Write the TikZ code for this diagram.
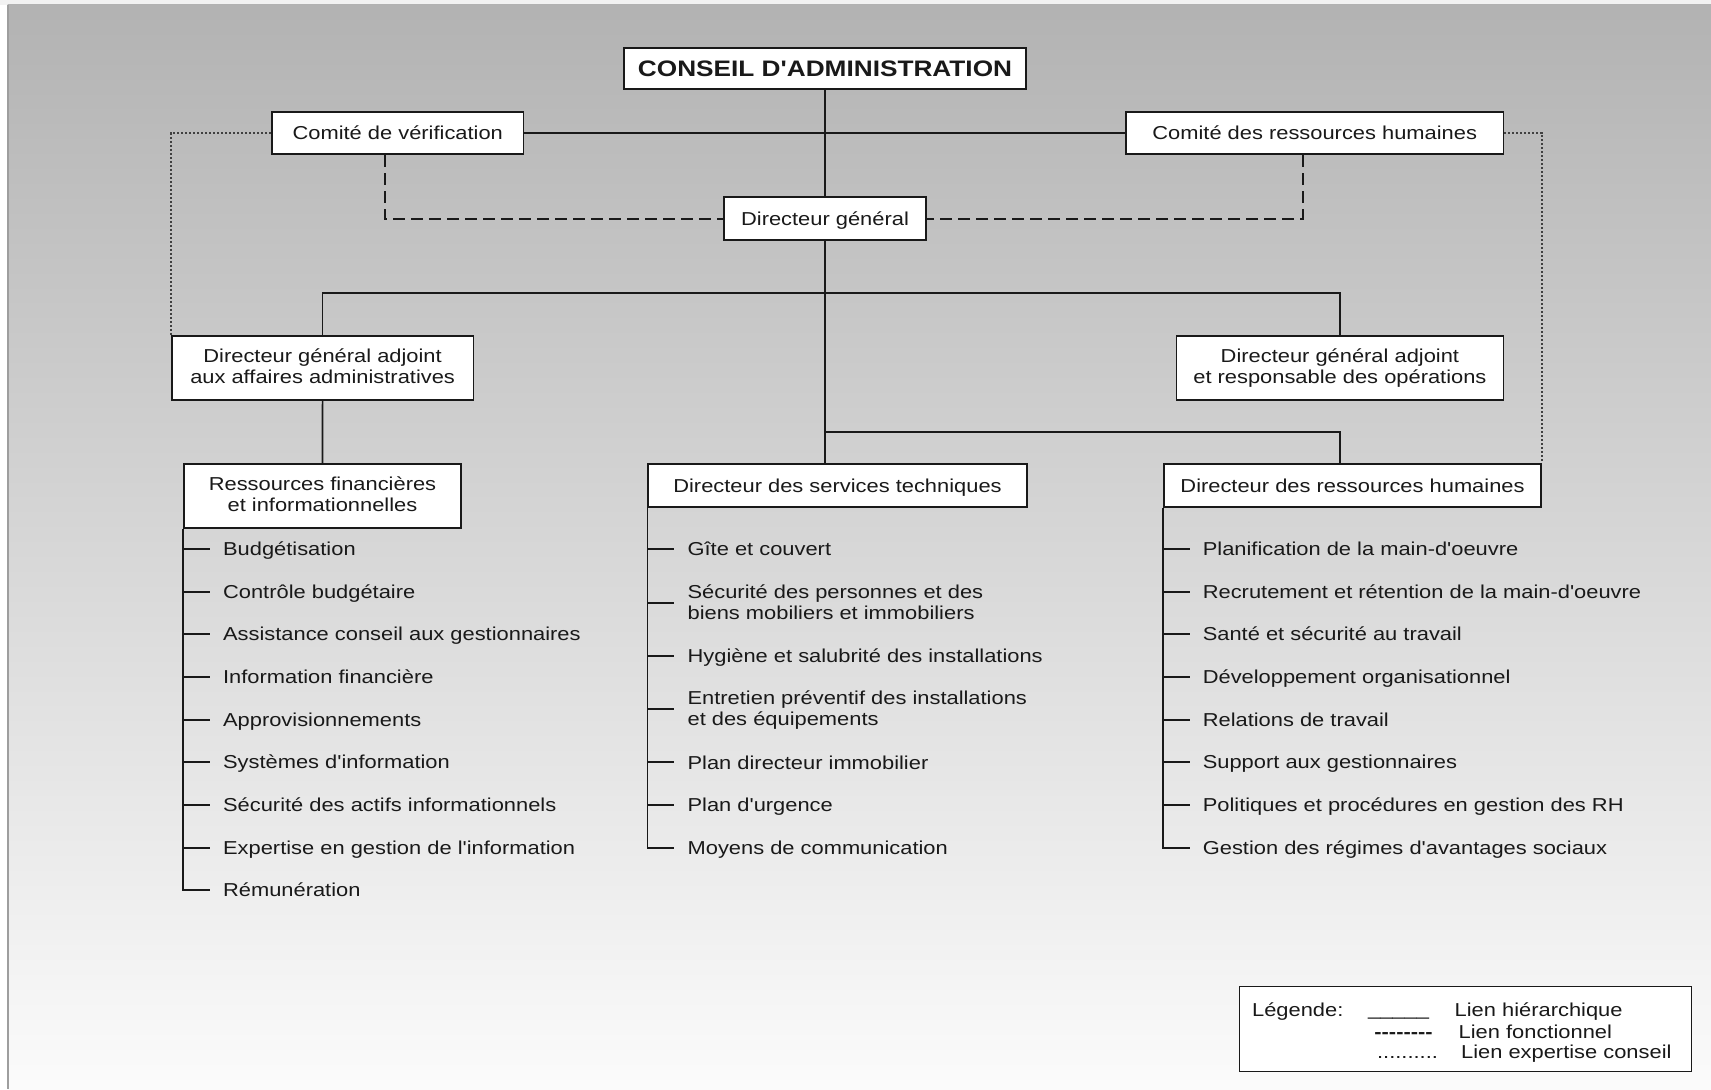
\documentclass[tikz,border=0pt]{standalone}
\usepackage{fontspec}
\newfontfamily\lsans{Liberation Sans}[FakeStretch=1.17]
\usetikzlibrary{calc}
\definecolor{bgtop}{gray}{0.70}
\definecolor{bgbot}{gray}{0.985}
\definecolor{ink}{gray}{0.1}
\definecolor{dotc}{gray}{0.25}
\definecolor{edge}{gray}{0.62}
\newcommand\twol[2]{\vtop{\hbox{#1}\hbox{#2}}}

\begin{document}
\begin{tikzpicture}[x=0.5pt,y=-0.5pt,
  every node/.style={font=\lsans\fontsize{9.35pt}{10.5pt}\selectfont, text=ink},
  box/.style={draw=ink, fill=white, line width=0.9pt, inner sep=0pt, align=center,
    execute at begin node=\rule{0pt}{8.7pt},
    execute at end node=\rule[-2pt]{0pt}{2pt}},
  hier/.style={draw=ink, line width=0.85pt},
  fonc/.style={draw=ink, line width=1pt, dash pattern=on 6pt off 3pt},
  expert/.style={draw=dotc, line width=0.6pt, dash pattern=on 1pt off 1pt},
  item/.style={anchor=base west, inner sep=0pt},
]
\useasboundingbox (0,0) rectangle (1711,1089);

% page background with vertical gradient
\fill[white] (0,0) rectangle (1711,1089);
\fill[gray!10] (0,0) rectangle (1711,4.5);
\shade[top color=bgtop, bottom color=bgbot] (7.5,4.5) rectangle (1711,1089);
\draw[edge, line width=0.75pt] (8,4.5) -- (8,1089);

% ---- boxes ----
\node[box, font=\lsans\bfseries\fontsize{11.2pt}{13pt}\selectfont,
      execute at begin node=\rule{0pt}{10pt},
      minimum width=201pt, minimum height=20.5pt] (ca) at (825,68.5) {CONSEIL D'ADMINISTRATION};
\node[box, minimum width=125.75pt, minimum height=21.15pt] (cv) at (397.75,133) {Comité de vérification};
\node[box, minimum width=188.7pt, minimum height=21.15pt] (crh) at (1314.7,133) {Comité des ressources humaines};
\node[box, minimum width=101pt, minimum height=21.35pt] (dg) at (825,218.65) {Directeur général};
\node[box, minimum width=150.8pt, minimum height=32pt] (dgaa) at (322.6,368) {Directeur général adjoint\\aux affaires administratives};
\node[box, minimum width=163.5pt, minimum height=32pt] (dgao) at (1339.9,368) {Directeur général adjoint\\et responsable des opérations};
\node[box, minimum width=138.5pt, minimum height=32.15pt] (rfi) at (322.5,496.2) {Ressources financières\\et informationnelles};
\node[box, minimum width=189.2pt, minimum height=21.35pt] (dst) at (837.5,485.35) {Directeur des services techniques};
\node[box, minimum width=188.5pt, minimum height=21.35pt] (drh) at (1352.5,485.35) {Directeur des ressources humaines};

% ---- hierarchical links ----
\coordinate (j1) at (825,293);
\coordinate (j2) at (825,432);
\coordinate (k2) at (1340,432);
\draw[hier] (ca.south) -- (dg.north);
\draw[hier] (cv.east) -- (crh.west);
\draw[hier] (dg.south) -- (dg.south |- dst.north);
\draw[hier] (dgaa.north) |- (j1) -| (dgao.north);
\draw[hier] (j2) -- (k2) -- (k2 |- drh.north);
\draw[hier] (dgaa.south) -- (rfi.north);

% ---- functional links ----
\coordinate (fl) at (385,218.65);
\coordinate (fr) at (1302.5,218.65);
\draw[fonc] (cv.south -| fl) |- (dg.west);
\draw[fonc] (crh.south -| fr) |- (dg.east);

% ---- advisory links ----
\draw[expert] (cv.west) -| (dgaa.north west);
\draw[expert] (crh.east) -| (drh.north east);

% ---- left list ----
\draw[hier] (rfi.south west) -- ++(0,362);
\foreach \ty/\t [count=\i] in {549/Budgétisation, 592/Contrôle budgétaire,
  634/Assistance conseil aux gestionnaires, 677/Information financière,
  720/Approvisionnements, 762/Systèmes d'information,
  805/Sécurité des actifs informationnels, 848/Expertise en gestion de l'information,
  890/Rémunération} {
  \draw[hier] (184,\ty) -- ++(25.5,0);
  \node[item] (fin\i) at (222.7,\ty+6.7) {\t};
}

% ---- middle list ----
\draw[hier] (dst.south west) -- ++(0,341.3);
\foreach \ty/\by/\t [count=\i] in {549/555.7/Gîte et couvert,
  603/598.4/{\twol{Sécurité des personnes et des}{biens mobiliers et immobiliers}},
  656/662.4/Hygiène et salubrité des installations,
  709/704.7/{\twol{Entretien préventif des installations}{et des équipements}},
  762/769/Plan directeur immobilier, 805/811.7/Plan d'urgence,
  848/854.7/Moyens de communication} {
  \draw[hier] (648.3,\ty) -- ++(25.5,0);
  \node[item] (tec\i) at (687.2,\by) {\t};
}

% ---- right list ----
\draw[hier] (drh.south west) -- ++(0,341.3);
\foreach \ty/\t [count=\i] in {549/Planification de la main-d'oeuvre,
  592/Recrutement et rétention de la main-d'oeuvre,
  634/Santé et sécurité au travail, 677/Développement organisationnel,
  720/Relations de travail, 762/Support aux gestionnaires,
  805/Politiques et procédures en gestion des RH,
  848/Gestion des régimes d'avantages sociaux} {
  \draw[hier] (1164,\ty) -- ++(25.5,0);
  \node[item] (rh\i) at (1202.4,\ty+6.7) {\t};
}

% ---- legend ----
\node[draw=ink, fill=white, line width=0.7pt, inner sep=0pt,
      minimum width=226.2pt, minimum height=42.5pt] (leg) at (1465.5,1029.2) {};
\node[item] (lg0) at (1251.7,1016.5) {Légende:};
\node[item] (lg1a) at (1367.7,1015) {\_\_\_\_\_};
\node[item] (lg1b) at (1454.3,1016.5) {Lien hiérarchique};
\node[item, font=\lsans\bfseries\fontsize{9.35pt}{10.5pt}\selectfont] (lg2a) at (1374,1038) {--------};
\node[item] (lg2b) at (1458.3,1038) {Lien fonctionnel};
\node[item] (lg3a) at (1376.7,1058) {..........};
\node[item] (lg3b) at (1460.7,1058) {Lien expertise conseil};
\end{tikzpicture}
\end{document}
